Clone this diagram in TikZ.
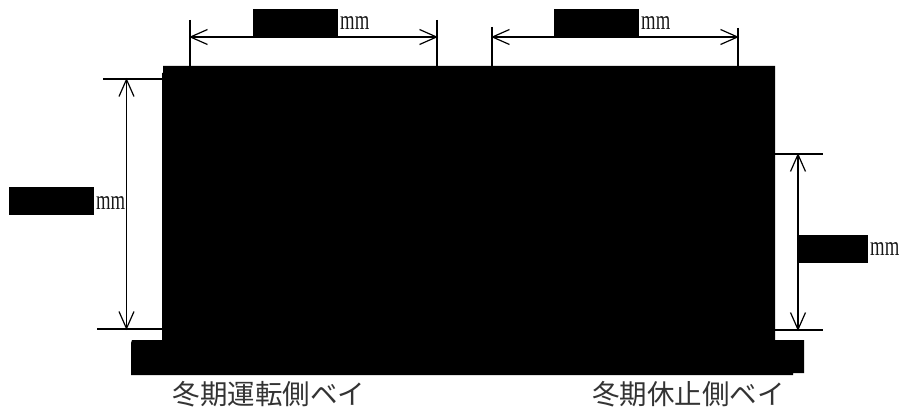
\documentclass[tikz,border=0pt]{standalone}
\usepackage{fontspec}
\usepackage{graphicx}
\setmainfont{Liberation Serif}
\newfontfamily\cjkjp{Noto Sans CJK JP}
\usetikzlibrary{arrows.meta}
\tikzset{
  x=1pt,y=-1pt,
  redact/.style={fill=black,draw=none},
  extline/.style={draw=black,line width=1.4pt},
  dimline/.style={draw=black,line width=1.2pt,{Straight Barb[length=17pt,width=15pt,line width=1.2pt]}-{Straight Barb[length=17pt,width=15pt,line width=1.2pt]},shorten <=-1pt,shorten >=-1pt},
  unit/.style={inner sep=0pt,text=black!90,font=\fontsize{27.5}{27.5}\selectfont},
  caption/.style={inner sep=0pt,text=black!80,font=\cjkjp\fontsize{27.5}{27.5}\selectfont},
}
\newcommand{\mmtext}{\scalebox{0.68}[1]{mm}}
\begin{document}
\begin{tikzpicture}
\useasboundingbox (0,0) rectangle (900,412);
% housing and base
\fill[redact] (163,66) -- (775,66) -- (775,340) -- (804,340) -- (804,373) -- (793,373) -- (793,375) -- (131,375) -- (131,343) -- (132,340) -- (162,340) -- (162,73) -- (163,73) -- cycle;
% redaction blocks
\fill[redact] (253,9) rectangle (338,37);
\fill[redact] (554,9) rectangle (639,37);
\fill[redact] (9,187) rectangle (94,215);
\fill[redact] (797,235) rectangle (868,263);
% named points
\coordinate (t1a) at (190,20);  \coordinate (t1b) at (190,66);
\coordinate (t1c) at (437,20);  \coordinate (t1d) at (437,66);
\coordinate (t2a) at (492,27);  \coordinate (t2b) at (492,66);
\coordinate (t2c) at (738,28);  \coordinate (t2d) at (738,66);
\coordinate (l1a) at (103,79);  \coordinate (l1b) at (162,79);
\coordinate (l2a) at (97,329);  \coordinate (l2b) at (162,329);
\coordinate (r1a) at (775,154); \coordinate (r1b) at (823,154);
\coordinate (r2a) at (775,330); \coordinate (r2b) at (823,330);
\coordinate (d1a) at (190,37);  \coordinate (d1b) at (437,37);
\coordinate (d2a) at (492,37);  \coordinate (d2b) at (738,37);
\coordinate (d3a) at (126.5,79);\coordinate (d3b) at (126.5,329);
\coordinate (d4a) at (798,154); \coordinate (d4b) at (798,330);
% extension lines
\draw[extline] (t1a) -- (t1b);
\draw[extline] (t1c) -- (t1d);
\draw[extline] (t2a) -- (t2b);
\draw[extline] (t2c) -- (t2d);
\draw[extline] (l1a) -- (l1b);
\draw[extline] (l2a) -- (l2b);
\draw[extline] (r1a) -- (r1b);
\draw[extline] (r2a) -- (r2b);
% dimension lines
\draw[dimline] (d1a) -- (d1b);
\draw[dimline] (d2a) -- (d2b);
\draw[dimline] (d3a) -- (d3b);
\draw[dimline] (d4a) -- (d4b);
% units
\node[unit,anchor=base west] (m1) at (340,30) {\mmtext};
\node[unit,anchor=base west] (m2) at (641,30) {\mmtext};
\node[unit,anchor=base west] (m3) at (96,209) {\mmtext};
\node[unit,anchor=base west] (m4) at (870,255) {\mmtext};
% captions
\node[caption,anchor=center] (c1) at (269,394) {冬期運転側ベイ};
\node[caption,anchor=center] (c2) at (688.5,394) {冬期休止側ベイ};
\end{tikzpicture}
\end{document}
